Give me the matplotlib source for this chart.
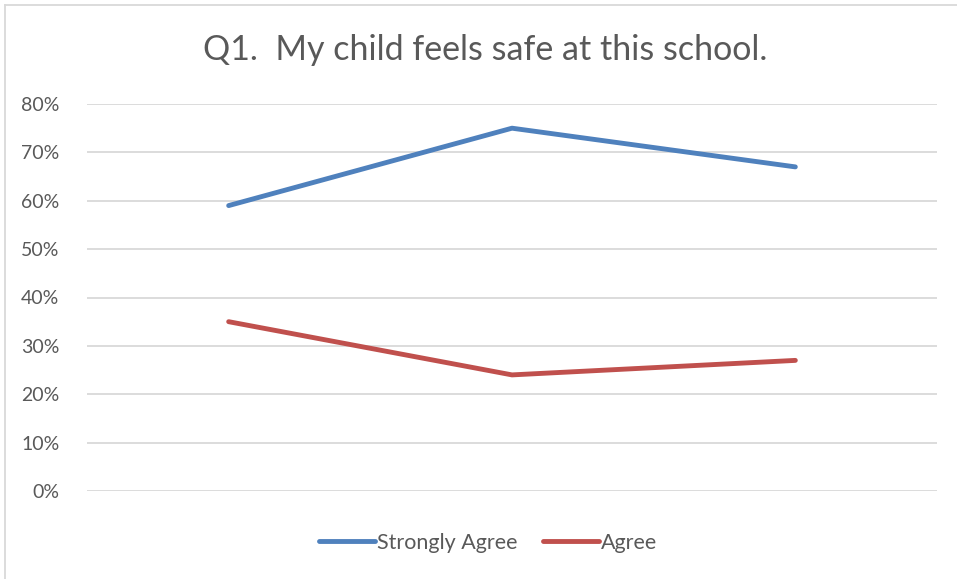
import matplotlib.pyplot as plt
from matplotlib.lines import Line2D
from matplotlib.ticker import PercentFormatter

# ------------------------------------------------------------
# Data
# ------------------------------------------------------------
categories = ["1", "2", "3"]
strongly_agree = [0.59, 0.75, 0.67]
agree = [0.35, 0.24, 0.27]
y_ticks = [0.0, 0.1, 0.2, 0.3, 0.4, 0.5, 0.6, 0.7, 0.8]

BLUE = "#4f81bd"
RED = "#c0504d"
GRAY_TEXT = "#595959"
GRID = "#d9d9d9"

plt.rcParams["font.family"] = ["Lato", "DejaVu Sans"]

fig = plt.figure(figsize=(9.57, 5.79), dpi=100)
W, H = 957, 579
ax = fig.add_axes([87 / W, 1 - 491 / H, (937 - 87) / W, (491 - 104) / H])

x = list(range(len(categories)))
ax.plot(x, strongly_agree, color=BLUE, lw=3.5, solid_capstyle="round", label="Strongly Agree")
ax.plot(x, agree, color=RED, lw=3.5, solid_capstyle="round", label="Agree")

ax.set_xlim(-0.5, len(categories) - 0.5)
ax.set_ylim(0, 0.8)
ax.set_yticks(y_ticks)
ax.yaxis.set_major_formatter(PercentFormatter(1.0, decimals=0))
ax.set_xticks([])
ax.grid(axis="y", color=GRID, lw=1.3)
ax.set_axisbelow(True)
for s in ax.spines.values():
    s.set_visible(False)
ax.tick_params(axis="y", length=0, pad=20, labelsize=14, labelcolor=GRAY_TEXT)

fig.text(485 / W, 1 - 50 / H, "Q1.  My child feels safe at this school.",
         ha="center", va="center", fontsize=24.5, color=GRAY_TEXT)

handles = [Line2D([], [], color=BLUE, lw=3.5, solid_capstyle="round"),
           Line2D([], [], color=RED, lw=3.5, solid_capstyle="round")]
fig.legend(handles, ["Strongly Agree", "Agree"], loc="center",
           bbox_to_anchor=(488 / W, 1 - 543 / H), ncol=2, frameon=False,
           fontsize=15.5, labelcolor=GRAY_TEXT, handlelength=2.6,
           handletextpad=0.1, columnspacing=1.2)

# chart border (top and left visible in the crop)
fig.add_artist(Line2D([5 / W, 1], [1 - 5 / H, 1 - 5 / H], transform=fig.transFigure, color=GRID, lw=1.3))
fig.add_artist(Line2D([5 / W, 5 / W], [0, 1 - 5 / H], transform=fig.transFigure, color=GRID, lw=1.3))

fig.savefig("out.png", dpi=100)
